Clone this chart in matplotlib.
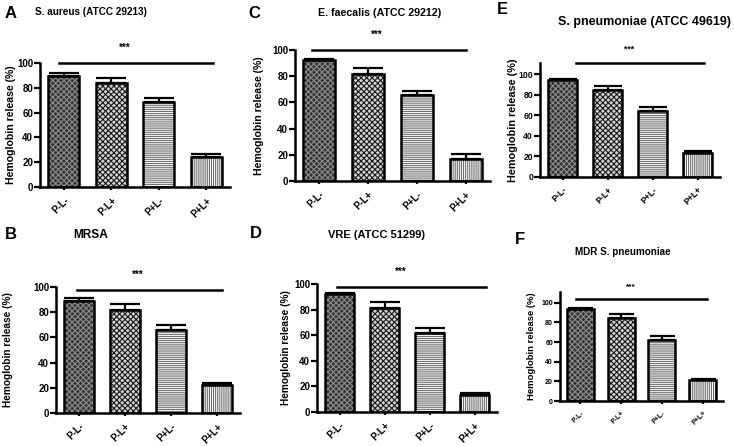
import matplotlib
matplotlib.use("Agg")
import matplotlib.pyplot as plt
import numpy as np

# --- Data ---
groups = ["P-L-", "P-L+", "P+L-", "P+L+"]

sa_mean = [89.8, 83.6, 68.7, 24.0]
sa_err = [2.1, 4.3, 3.0, 2.4]

mrsa_mean = [89.2, 82.0, 66.1, 22.2]
mrsa_err = [1.8, 4.8, 3.7, 1.3]

ef_mean = [92.4, 81.7, 65.4, 17.0]
ef_err = [1.0, 4.6, 3.6, 3.6]

vre_mean = [92.2, 81.0, 61.5, 13.5]
vre_err = [0.5, 4.9, 3.9, 1.1]

sp_mean = [94.1, 84.4, 64.5, 23.8]
sp_err = [1.0, 4.2, 3.9, 1.3]

mdr_mean = [93.5, 84.6, 62.5, 21.2]
mdr_err = [0.7, 4.5, 4.1, 1.3]

plt.rcParams['font.family'] = ['Liberation Sans', 'DejaVu Sans']
plt.rcParams['font.weight'] = 'bold'
plt.rcParams['hatch.linewidth'] = 0.8

W, H = 734, 446

# bar styles: face, hatch, hatch colour
STYLES = [
    ("#333333", "xxxxxx", "#8c8c8c"),
    ("#d2d2d2", "xxxxxx", "#1a1a1a"),
    ("#ffffff", "-" * 8, "#6e6e6e"),
    ("#ffffff", "|" * 8, "#6e6e6e"),
]


def px_axes(fig, left, right, top, bottom):
    return fig.add_axes([left / W, 1 - bottom / H, (right - left) / W, (bottom - top) / H])


def draw_panel(ax, means, errs, ymax, sig_y, sig_x, fs=7, lab_fs=7.6, cap=11,
               star_fs=None, lpad=3):
    x = np.arange(len(groups))
    width = 0.66
    for i in range(len(groups)):
        face, hatch, hcol = STYLES[i]
        ax.bar(x[i], means[i], width, color=face, hatch=hatch, edgecolor=hcol,
               linewidth=0, zorder=2)
        ax.bar(x[i], means[i], width, fill=False, edgecolor="black", linewidth=1.8, zorder=3)
    ax.errorbar(x, means, yerr=[np.zeros(len(errs)), errs], fmt="none", ecolor="black",
                elinewidth=1.6, capsize=cap, capthick=1.6, zorder=1)
    ax.plot([sig_x[0], sig_x[1]], [sig_y, sig_y], color="black", lw=1.8, clip_on=False)
    ax.text(np.mean(sig_x) - 0.25, sig_y + ymax * 0.08, "***", ha="center", va="bottom",
            fontsize=star_fs or fs, fontweight="bold")
    ax.set_xlim(-0.5, 3.5)
    ax.set_ylim(0, ymax)
    ax.set_yticks([0, 20, 40, 60, 80, 100])
    ax.set_xticks(x)
    ax.set_xticklabels(groups, rotation=45, ha="right", rotation_mode="anchor",
                       fontsize=fs, fontweight="bold")
    for lab in ax.get_yticklabels():
        lab.set_fontsize(fs)
        lab.set_fontweight("bold")
    ax.tick_params(axis="y", direction="out", length=4, width=1.6, pad=1)
    ax.tick_params(axis="x", direction="out", length=2, width=1.6, pad=4)
    ax.spines["top"].set_visible(False)
    ax.spines["right"].set_visible(False)
    ax.spines["left"].set_linewidth(1.8)
    ax.spines["bottom"].set_linewidth(1.8)
    ax.set_ylabel("Hemoglobin release (%)", fontsize=lab_fs, fontweight="bold", labelpad=lpad)


fig = plt.figure(figsize=(W / 100, H / 100), dpi=100)

axA = px_axes(fig, 40, 230, 63, 187)
draw_panel(axA, sa_mean, sa_err, 100, 100, (-0.1, 3.15), lpad=1)
axC = px_axes(fig, 295, 490, 50, 181)
draw_panel(axC, ef_mean, ef_err, 100, 100, (-0.15, 3.0), lpad=6)
axE = px_axes(fig, 540, 720, 63, 177)
draw_panel(axE, sp_mean, sp_err, 111, 111, (0.3, 3.15), fs=6.2, lab_fs=7.8, cap=10, lpad=0)
axB = px_axes(fig, 56, 240, 287, 413)
draw_panel(axB, mrsa_mean, mrsa_err, 100, 97.5, (-0.05, 3.1), lab_fs=7.3, lpad=14)
axD = px_axes(fig, 317, 497, 284, 412)
draw_panel(axD, vre_mean, vre_err, 100, 97.5, (-0.05, 3.25), lab_fs=7.3, lpad=2)
axF = px_axes(fig, 560, 723, 292, 401)
draw_panel(axF, mdr_mean, mdr_err, 111, 104, (-0.1, 3.1), fs=5, lab_fs=6.8, cap=9,
           star_fs=6, lpad=4)

# panel letters
for letter, px, py in [("A", 5, 13), ("C", 248, 14), ("E", 497, 10),
                       ("B", 5, 235), ("D", 250, 234), ("F", 515, 240)]:
    fig.text(px / W, 1 - py / H, letter, fontsize=12, fontweight="bold", va="center", ha="left")

# titles
for title, px, py, fs in [("S. aureus (ATCC 29213)", 35, 12, 7.2),
                          ("E. faecalis (ATCC 29212)", 318, 13, 7.7),
                          ("S. pneumoniae (ATCC 49619)", 558, 22, 9.0),
                          ("MRSA", 73, 235, 8.6),
                          ("VRE (ATCC 51299)", 328, 235, 8.0),
                          ("MDR S. pneumoniae", 575, 252, 7.1)]:
    fig.text(px / W, 1 - py / H, title, fontsize=fs, fontweight="bold", va="center", ha="left")

plt.savefig("out.png", dpi=100)
plt.close()
